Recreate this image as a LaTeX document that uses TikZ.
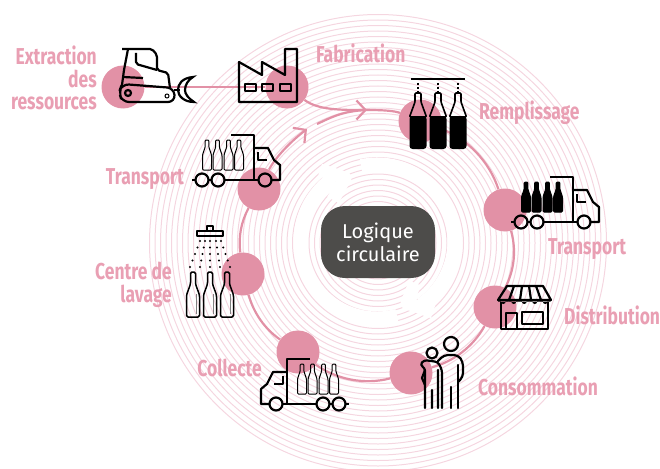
\documentclass[tikz,border=0pt]{standalone}
\usepackage{fontspec}
\usetikzlibrary{arrows.meta}
\newfontfamily\labelfont{Fira Sans}[FakeStretch=0.76]
\newfontfamily\centerfont{Fira Sans}
\definecolor{rosedot}{HTML}{E291A6}
\definecolor{roselabel}{HTML}{E99FB3}
\definecolor{rosering}{HTML}{F5D6E0}
\definecolor{darkbox}{HTML}{4D4C4A}

\tikzset{
  stage/.style={circle,fill=rosedot,minimum size=43pt,inner sep=0pt},
  link/.style={draw=rosedot,line width=2.2pt},
  arcbend/.style={looseness=.88},
  barb/.style={-{Straight Barb[length=9pt,width=19pt,line width=2.2pt]}},
  icon/.style={draw=black,line width=2.2pt,line join=round},
  whitearrow/.style={draw=white,line width=13pt},
  caption/.style={text=roselabel,font=\labelfont\bfseries\fontsize{23}{22.5}\selectfont,inner sep=0pt,align=right},
  pics/bottle/.style={code={
    \draw[line width=1pt,line join=round,rounded corners=1pt,fill=#1]
      (-4.5,0) -- (-4.5,-15) -- (-1.8,-23) -- (-1.8,-30) -- (1.8,-30) -- (1.8,-23) -- (4.5,-15) -- (4.5,0) -- cycle;
  }},
  pics/truck/.style={code={
    \draw[icon] (-23,-45) -- (0,-45) -- (0,0);
    \draw[icon] (0,-32) -- (14,-32) -- (20,-20) -- (26,-15) -- (26,0) -- (17.5,0);
    \draw[icon] (4,-28) -- (4,-20) -- (13,-20);
    \draw[icon] (4.5,0) -- (-29.5,0) (-42.5,0) -- (-45.5,0) (-58.5,0) -- (-62,0);
    \foreach \wheelx in {-52,-36,11}
      \draw[icon] (\wheelx,0) circle[radius=6.5];
    \foreach \bottlex in {-47,-36.5,-25.5,-15}
      \pic at (\bottlex,-10) {bottle=#1};
  }}
}

\begin{document}
\begin{tikzpicture}[x=1pt,y=-1pt]
  \useasboundingbox (0,0) rectangle (660,468);
  % background rings
  \foreach \ringr in {36,41.5,...,231}
    \draw[rosering,line width=1pt] (378,243) circle[radius=\ringr];
  % white arrows in the middle
  \draw[whitearrow] ({377+77*cos(-102)},{241+77*sin(-102)}) arc[start angle=-102,end angle=55,radius=77];
  \draw[whitearrow,line join=round] (415,283) -- (407,303) -- (433,312);
  \draw[whitearrow] ({377+77*cos(75)},{241+77*sin(75)}) arc[start angle=75,end angle=235,radius=77];
  \draw[whitearrow,line join=round] (320,170) -- (345,178) -- (333,200);

  \node[stage] (extraction) at (123,87) {};
  \node[stage] (fabrication) at (287,87) {};
  \node[stage] (remplissage) at (420,121) {};
  \node[stage] (transportb) at (505,210) {};
  \node[stage] (distribution) at (495,307) {};
  \node[stage] (consommation) at (411,373) {};
  \node[stage] (collecte) at (298,352) {};
  \node[stage] (lavage) at (243,274) {};
  \node[stage] (transporta) at (259,189) {};
  \coordinate (tipa) at (367,110);
  \coordinate (tipb) at (307,129);
  \coordinate (starta) at (317,124);

  \draw[link] (extraction) -- (fabrication);
  \draw[link,barb] (fabrication) .. controls (318,110) and (340,110) .. (tipa);
  \draw[link] (starta) .. controls (330,118) and (342,111) .. (tipa);
  \draw[link] (tipa) .. controls (385,110) and (395,111) .. (remplissage);
  \draw[link] (remplissage) to[bend left=26,arcbend] (transportb);
  \draw[link] (transportb) to[bend left=22,arcbend] (distribution);
  \draw[link] (distribution) to[bend left=23,arcbend] (consommation);
  \draw[link] (consommation) to[bend left=25,arcbend] (collecte);
  \draw[link] (collecte) to[bend left=20,arcbend] (lavage);
  \draw[link] (lavage) to[bend left=18,arcbend] (transporta);
  \draw[link,barb] (transporta) .. controls (275,158) and (290,142) .. (tipb);

  % bulldozer
  \draw[icon,rounded corners=2pt] (122,49) -- (152,49) -- (157,55) -- (157,70) -- (168,73) -- (170,88);
  \draw[icon] (128,49) -- (124,70) -- (122,85);
  \draw[icon,rounded corners=2pt] (136,53) -- (136,64) -- (157,70);
  \draw[icon] (123,77) -- (143,78);
  \draw[icon,rounded corners=7pt] (122,84) -- (174,88) -- (175,102) -- (122,102) -- (119,92) -- cycle;
  \draw[icon] (128,93) circle[radius=3];
  \draw[line width=1pt] (167,96) circle[radius=2];
  \draw[icon] (174,90) -- (180,90);
  \draw[icon,line join=miter] (193,77) .. controls (182,78) and (178,84) .. (178,90) .. controls (178,96) and (184,102) .. (194,102)
    .. controls (188,98) and (185,94) .. (185,90) .. controls (185,85) and (188,80) .. (193,77) -- cycle;

  % factory
  \draw[icon] (239,102) -- (239,62) -- (262,75) -- (262,62) -- (285,75) -- (285,49) -- (297,49) -- (297,102) -- cycle;
  \foreach \winx in {245,262,280}
    \draw[icon] (\winx,84) rectangle ++(11,7);

  % filling
  \draw[icon] (411,79) -- (465,79);
  \foreach \fillx in {418,438,458} {
    \draw[line width=2pt,dash pattern=on 2.5pt off 1.5pt] (\fillx,83) -- (\fillx,92);
    \draw[line width=1.6pt,line join=round,rounded corners=1pt] (\fillx-3,93) -- (\fillx+3,93) -- (\fillx+3,102) -- (\fillx+8.5,117) -- (\fillx-8.5,117) -- (\fillx-3,102) -- cycle;
    \fill[black,rounded corners=3pt] (\fillx-8.5,116) rectangle (\fillx+8.5,149);
  }

  \pic at (254,180) {truck=none};
  \pic at (573,222) {truck=black};
  \pic[xscale=-1] at (287,404) {truck=none};

  % shop
  \draw[icon] (507,286) -- (543,286) -- (551,300) -- (498,300) -- cycle;
  \foreach \stripa/\stripb in {514/509,522/520,529/531,536/541}
    \draw[icon] (\stripa,286) -- (\stripb,300);
  \foreach \scallop in {498,508.5,519,529.5,540}
    \fill[black] (\scallop,300) rectangle ++(10.5,1.5) (\scallop+5.25,301.5) circle[radius=2.5];
  \draw[icon] (501,302) -- (501,329) -- (548,329) -- (548,302);
  \draw[icon] (506,329) -- (506,313) -- (517,313) -- (517,329);
  \draw[icon] (522,312) rectangle (543,324);

  % family
  \draw[icon] (451,344) circle[radius=7];
  \draw[icon] (432,353) circle[radius=5.5];
  \draw[icon,line cap=round,rounded corners=4pt] (438,361) -- (444,355) -- (458,355) -- (463,362) -- (463,377) -- (458,382);
  \draw[icon,line cap=round] (458,365) -- (458,408) (451,387) -- (451,408);
  \draw[icon,line cap=round,rounded corners=3pt] (425,408) -- (425,368) -- (420,365) -- (424,360) -- (438,362) -- (442,370) -- (442,408);
  \draw[icon,line cap=round] (432,390) -- (432,408) (438,370) -- (438,408) (425,370) -- (422,378) -- (425,385);

  % washing
  \draw[icon] (197,231) rectangle (223,236);
  \draw[icon] (207,231) -- (207,226) -- (213,226) -- (213,231);
  \foreach \topx/\botx in {200/190,205/200,210/210,216/220,221/230}
    \foreach \dotstep in {0,1,...,4}
      \fill[black] ({\topx+(\botx-\topx)*\dotstep/4},{241+26*\dotstep/4}) circle[radius=1.1];
  \foreach \washx in {193,210,227} {
    \draw[line width=1.5pt,line join=round,rounded corners=1.5pt] (\washx-6.5,317) -- (\washx-6.5,295) -- (\washx-2.5,284) -- (\washx-2.5,272) -- (\washx+2.5,272) -- (\washx+2.5,284) -- (\washx+6.5,295) -- (\washx+6.5,317) -- cycle;
    \draw[gray,line width=.8pt] (\washx+3.5,294) -- (\washx+3.5,314);
  }

  % texts
  \node[caption,anchor=east] (lblextraction) at (97,78) {Extraction\\des\\ressources};
  \node[caption,anchor=west] (lblfabrication) at (316,53) {Fabrication};
  \node[caption,anchor=west] (lblremplissage) at (479,113) {Remplissage};
  \node[caption,anchor=west] (lbltransportb) at (548,249) {Transport};
  \node[caption,anchor=west] (lbldistribution) at (564,315) {Distribution};
  \node[caption,anchor=west] (lblconsommation) at (478,386) {Consommation};
  \node[caption,anchor=east] (lblcollecte) at (262,368) {Collecte};
  \node[caption,anchor=east] (lbllavage) at (172,285) {Centre de\\lavage};
  \node[caption,anchor=east] (lbltransporta) at (184,179) {Transport};

  \node[fill=darkbox,text=white,rounded corners=24pt,minimum width=114pt,minimum height=72pt,inner sep=0pt,align=center,font=\centerfont\fontsize{20}{23}\selectfont] (logique) at (378,242) {Logique\\circulaire};
\end{tikzpicture}
\end{document}
